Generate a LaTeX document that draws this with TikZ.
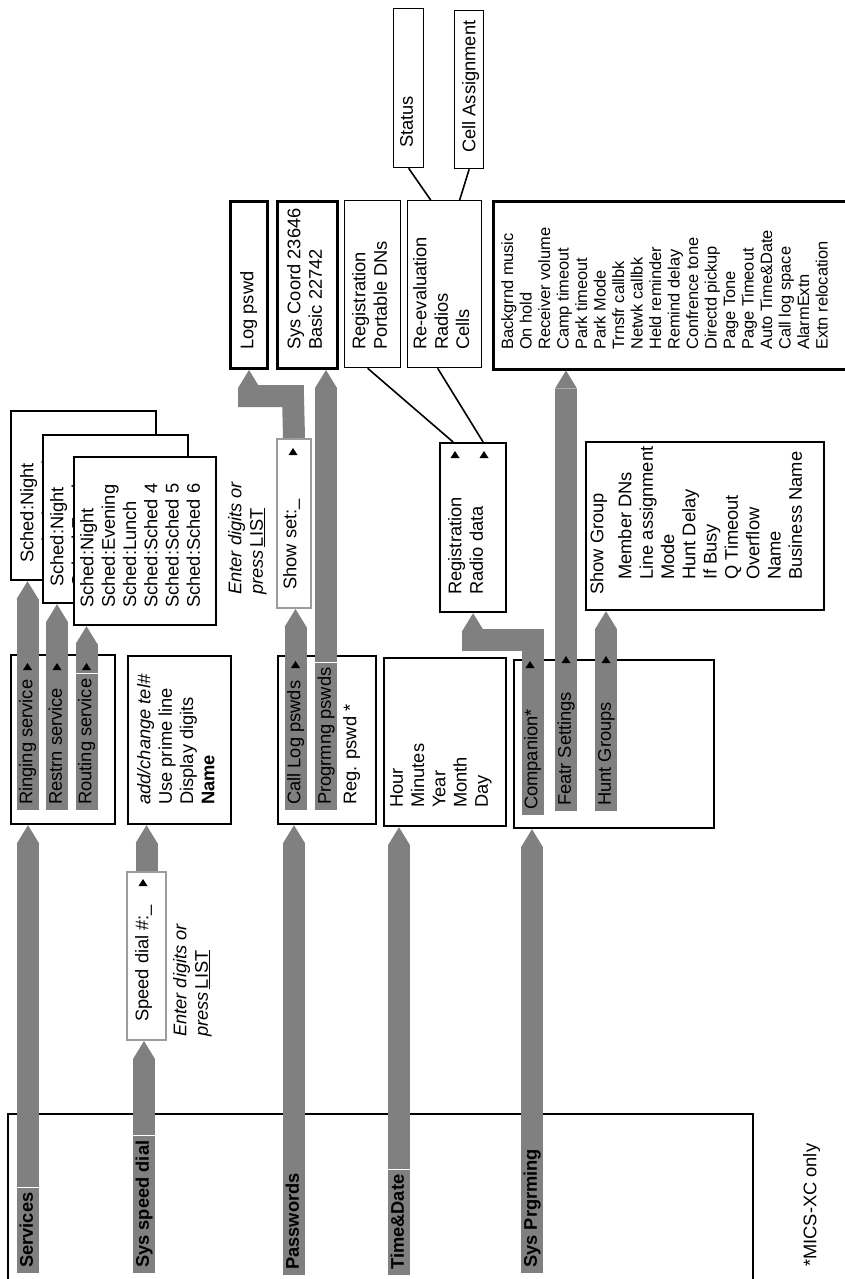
\documentclass[tikz,border=0pt]{standalone}
\usepackage{fontspec}
\setmainfont{Liberation Sans}
\usetikzlibrary{arrows.meta}
\definecolor{barcol}{HTML}{808080}
\definecolor{rimcol}{HTML}{9C9C9C}
\newcommand{\menufont}{\fontsize{18.3pt}{21.3pt}\selectfont}
\newcommand{\smallmenufont}{\fontsize{16.4pt}{18.5pt}\selectfont}
\newcommand{\schedlist}{Sched:Night\\Sched:Evening\\Sched:Lunch\\Sched:Sched 4\\Sched:Sched 5\\Sched:Sched 6}
\newcommand{\uptri}[1]{\fill (#1) ++(-4.5,3) -- ++(9,0) -- ++(-4.5,-7) -- cycle;}
\tikzstyle{box} = [draw, fill=white, line width=2.2pt, inner sep=0pt, anchor=north west]
\tikzstyle{thinbox} = [box, line width=1.3pt]
\tikzstyle{heavybox} = [box, line width=3pt]
\tikzstyle{rimbox} = [box, draw=rimcol, line width=2pt]
\tikzstyle{lbl} = [rotate=90, anchor=north west, inner sep=0pt, align=left, font=\menufont]
\tikzstyle{bar} = [rotate=90, anchor=west, fill=barcol, inner xsep=5pt, inner ysep=0pt, minimum height=22pt, text height=13.5pt, text depth=4pt, font=\menufont]
\tikzstyle{flow} = [draw=barcol, line width=22pt, line join=miter, -{Triangle[length=18pt 0, width=22pt 0, line width=0pt]}]
\tikzstyle{link} = [line width=1.6pt]

\begin{document}
\begin{tikzpicture}[x=1pt,y=-1pt]
			\useasboundingbox (0,0) rectangle (844,1279);
			\node[box, minimum width=745pt, minimum height=200pt] (main) at (7,1113) {};
			\node[box, minimum width=104pt, minimum height=169pt] (svcbox) at (10,654) {};
			\node[box, minimum width=145pt, minimum height=169pt] (schA) at (10,410) {};
			\node[lbl] (schAtxt) at (20,563) {\schedlist};
			\node[box, minimum width=145pt, minimum height=168pt] (schB) at (42,434) {};
			\node[lbl] (schBtxt) at (50,587) {\schedlist};
			\node[box, minimum width=142pt, minimum height=168pt] (schC) at (73,456) {};
			\node[lbl] (schCtxt) at (80,608) {\schedlist};
			\node[box, minimum width=103pt, minimum height=168pt] (sdbox) at (127,655) {};
			\node[lbl] (sdtxt) at (137,805) {\textit{add/change tel\#}\\Use prime line\\Display digits\\\textbf{Name}};
			\node[rimbox, minimum width=39pt, minimum height=168pt] (sdial) at (126,871) {};
			\node[lbl] (sdialtxt) at (135,1022) {Speed dial \#:\_};
			\node[lbl, font=\menufont\itshape] (hintA) at (173,1037) {Enter digits or\\press\,\textup{\underline{LIST}}};
			\node[box, minimum width=98pt, minimum height=168pt] (pwbox) at (277,655) {};
			\node[lbl] (regpw) at (343,805) {Reg. pswd *};
			\node[rimbox, minimum width=34pt, minimum height=169pt] (shw) at (276,438) {};
			\node[lbl] (shwtxt) at (283,590) {Show set:\_};
			\node[lbl, font=\menufont\itshape] (hintB) at (228,595) {Enter digits or\\press\,\textup{\underline{LIST}}};
			\node[heavybox, minimum width=37pt, minimum height=167pt] (logpw) at (229,200) {};
			\node[lbl] (logpwtxt) at (240,350) {Log pswd};
			\node[heavybox, minimum width=60pt, minimum height=167pt] (coord) at (276,200) {};
			\node[lbl] (coordtxt) at (287,350) {Sys Coord 23646\\Basic 22742};
			\node[thinbox, minimum width=56pt, minimum height=167pt] (pdn) at (344,200) {};
			\node[lbl] (pdntxt) at (352,350) {Registration\\Portable DNs};
			\node[thinbox, minimum width=74pt, minimum height=167pt] (rev) at (407,200) {};
			\node[lbl] (revtxt) at (413,350) {Re-evaluation\\Radios\\Cells};
			\node[thinbox, minimum width=30pt, minimum height=159pt] (sts) at (393,8) {};
			\node[lbl] (ststxt) at (400,148) {Status};
			\node[thinbox, minimum width=29pt, minimum height=158pt] (cel) at (454,10) {};
			\node[lbl] (celtxt) at (462,153) {Cell Assignment};
			\node[box, line width=2.5pt, minimum width=400pt, minimum height=168pt] (flist) at (492,200) {};
			\node[lbl, font=\smallmenufont] (flisttxt) at (501,350) {Backgrnd music\\On hold\\Receiver volume\\Camp timeout\\Park timeout\\Park Mode\\Trnsfr callbk\\Netwk callbk\\Held reminder\\Remind delay\\Confrence tone\\Directd pickup\\Page Tone\\Page Timeout\\Auto Time\&Date\\Call log space\\AlarmExtn\\Extn relocation};
			\node[box, minimum width=66pt, minimum height=169pt] (rdb) at (439,442) {};
			\node[lbl] (rdbtxt) at (448,595) {Registration\\Radio data};
			\node[box, minimum width=122pt, minimum height=168pt] (tdbox) at (383,657) {};
			\node[lbl] (tdtxt) at (390,808) {Hour\\Minutes\\Year\\Month\\Day};
			\node[box, minimum width=200pt, minimum height=168pt] (spbox) at (513,659) {};
			\node[box, minimum width=238pt, minimum height=168pt] (sgbox) at (585,441) {};
			\node[lbl] (sgtxt) at (590,595) {Show Group};
			\node[lbl] (sglist) at (618,580) {Member DNs\\Line assignment\\Mode\\Hunt Delay\\If Busy\\Q Timeout\\Overflow\\Name\\Business Name};
			\node[lbl] (note) at (803,1267) {*MICS-XC only};
			\coordinate (showturn) at (293,396);
			\coordinate (compturn) at (532.5,640);
			\node[bar, font=\menufont\bfseries] (svc) at (28,1273) {Services};
			\draw[flow] (svc.east) -- (svc.east |- svcbox.south);
			\node[bar, font=\menufont\bfseries] (ssd) at (144,1273) {Sys speed dial};
			\draw[flow] (ssd.east) -- (ssd.east |- sdial.south);
			\draw[flow] (sdial.north) -- (sdial.north |- sdbox.south);
			\node[bar, font=\menufont\bfseries] (pwd) at (294,1275) {Passwords};
			\draw[flow] (pwd.east) -- (pwd.east |- pwbox.south);
			\node[bar, font=\menufont\bfseries] (tnd) at (399,1275) {Time\&Date};
			\draw[flow] (tnd.east) -- (tnd.east |- tdbox.south);
			\node[bar, font=\menufont\bfseries] (spg) at (532,1273) {Sys Prgrming};
			\draw[flow] (spg.east) -- (spg.east |- spbox.south);
			\node[bar] (ring) at (27.5,810) {Ringing service};
			\draw[flow] (ring.east) -- (ring.east |- schA.south);
			\node[bar] (rstr) at (57,810) {Restrn service};
			\draw[flow] (rstr.east) -- (rstr.east |- schB.south);
			\node[bar] (rout) at (86.5,810) {Routing service};
			\draw[flow] (rout.east) -- (rout.east |- schC.south);
			\node[bar] (clog) at (295.5,810) {Call Log pswds};
			\draw[flow] (clog.east) -- (clog.east |- shw.south);
			\node[bar] (pgm) at (326,810) {Progrmng pswds};
			\draw[flow] (pgm.east) -- (pgm.east |- coord.south);
			\draw[flow] (shw.north) -- (showturn) -| (logpw.south);
			\node[bar] (comp) at (532.5,815) {Companion*};
			\draw[flow] (comp.east) -- (compturn) -| (rdb.south);
			\node[bar] (feat) at (566,811) {Featr Settings};
			\draw[flow] (feat.east) -- (feat.east |- flist.south);
			\node[bar] (hunt) at (606,811) {Hunt Groups};
			\draw[flow] (hunt.east) -- (hunt.east |- sgbox.south);
			\uptri{27.5,667}
			\uptri{57,667}
			\uptri{86.5,667}
			\uptri{143,883}
			\uptri{293,452}
			\uptri{295.5,665}
			\uptri{455,455}
			\uptri{484,455}
			\uptri{530,665}
			\uptri{566,660}
			\uptri{606,660}
			\draw[link] ([xshift=-20pt]rdb.north) -- ([xshift=-5pt]pdn.south);
			\draw[link] ([xshift=10pt]rdb.north) -- ([xshift=-7pt]rev.south);
			\draw[link] (sts.south) -- ([xshift=-14pt]rev.north);
			\draw[link] (cel.south) -- ([xshift=15pt]rev.north);
		\end{tikzpicture}
\end{document}
